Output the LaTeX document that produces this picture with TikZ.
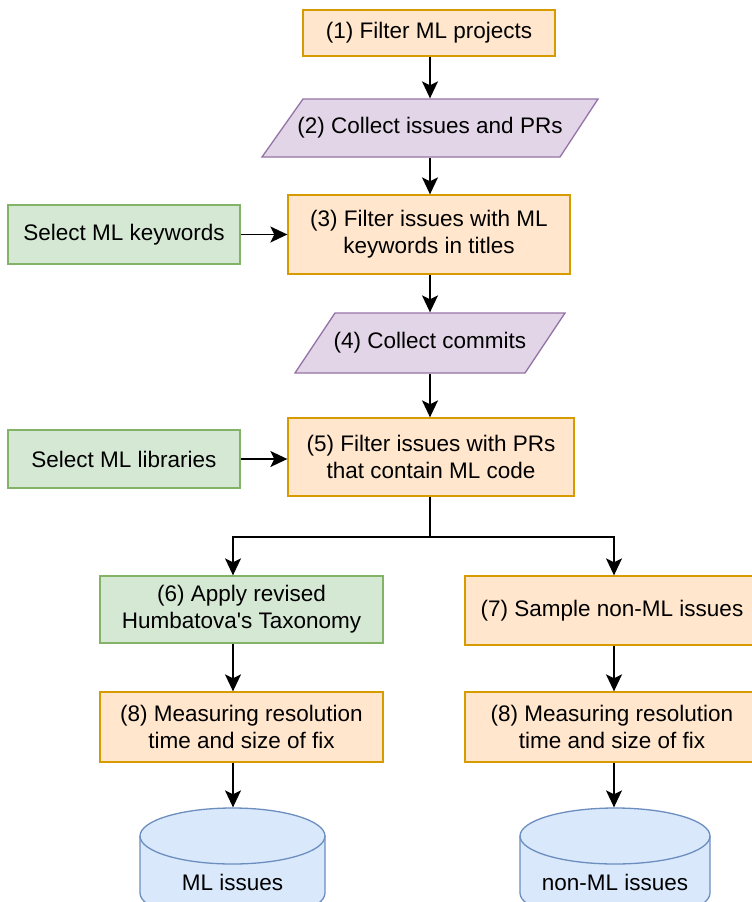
\documentclass[tikz,border=0pt]{standalone}
\usepackage{fontspec}
\setmainfont{Liberation Sans}
\usetikzlibrary{arrows.meta,calc}
\definecolor{ofill}{HTML}{FFE6CC}
\definecolor{ostroke}{HTML}{D79B00}
\definecolor{pfill}{HTML}{E1D5E7}
\definecolor{pstroke}{HTML}{9673A6}
\definecolor{gfill}{HTML}{D5E8D4}
\definecolor{gstroke}{HTML}{82B366}
\definecolor{bfill}{HTML}{DAE8FC}
\definecolor{bstroke}{HTML}{6C8EBF}
\newcommand\fsz{\fontsize{22.5}{27}\selectfont}
\tikzset{
  base/.style={line width=1.3pt, align=center, font=\fsz, inner sep=0pt, rectangle},
  obox/.style={base, draw=ostroke, fill=ofill},
  gbox/.style={base, draw=gstroke, fill=gfill},
  ptext/.style={base, draw=none, fill=none},
  para/.style={line width=1.3pt, draw=pstroke, fill=pfill},
  cyl/.style={line width=1.3pt, draw=bstroke, fill=bfill},
  arr/.style={line width=1.6pt, -{Stealth[length=17pt,width=16pt,inset=4pt]}}
}
\begin{document}
\begin{tikzpicture}[x=1pt,y=-1pt]
\useasboundingbox (0,0) rectangle (752,902);
\clip (0,0) rectangle (752,902);
\fill[white] (0,0) rectangle (752,902);
% (1)
\node[obox, minimum width=252, minimum height=46] (b1) at (429,33) {(1) Filter ML projects};
% (2)
\filldraw[para] (303,99) -- (598,99) -- (560,157) -- (262,157) -- cycle;
\node[ptext, minimum width=250, minimum height=58] (p2) at (430,128) {(2) Collect issues and PRs};
% (3)
\node[obox, minimum width=282, minimum height=79] (b3) at (429,234.5) {(3) Filter issues with ML\\keywords in titles};
\node[gbox, minimum width=232, minimum height=59] (g1) at (124,234.5) {Select ML keywords};
% (4)
\filldraw[para] (335,313) -- (565,313) -- (525,373) -- (295,373) -- cycle;
\node[ptext, minimum width=190, minimum height=60] (p4) at (430,343) {(4) Collect commits};
% (5)
\node[obox, minimum width=286, minimum height=78] (b5) at (431,457) {(5) Filter issues with PRs\\that contain ML code};
\node[gbox, minimum width=232, minimum height=58] (g2) at (124,459) {Select ML libraries};
% (6) (7)
\node[gbox, minimum width=283, minimum height=67] (b6) at (241.5,609.5) {(6) Apply revised\\Humbatova\textquotesingle s Taxonomy};
\node[obox, minimum width=294, minimum height=69] (b7) at (612,610.5) {(7) Sample non-ML issues};
% (8)
\node[obox, minimum width=283, minimum height=70] (b8l) at (241.5,727) {(8) Measuring resolution\\time and size of fix};
\node[obox, minimum width=294, minimum height=70] (b8r) at (612,727) {(8) Measuring resolution\\time and size of fix};
% cylinders
\filldraw[cyl] (140,836) -- (140,893) arc[start angle=180, end angle=0, x radius=92.5, y radius=28] -- (325,836) arc[start angle=0, end angle=-180, x radius=92.5, y radius=28] -- cycle;
\draw[cyl, fill=none] (140,836) arc[start angle=180, end angle=0, x radius=92.5, y radius=28];
\filldraw[cyl] (520,836) -- (520,893) arc[start angle=180, end angle=0, x radius=95, y radius=28] -- (710,836) arc[start angle=0, end angle=-180, x radius=95, y radius=28] -- cycle;
\draw[cyl, fill=none] (520,836) arc[start angle=180, end angle=0, x radius=95, y radius=28];
\node[ptext, minimum width=185, minimum height=94] (c1) at (232.5,855) {};
\node[ptext] (c1t) at (232.5,882) {ML issues};
\node[ptext, minimum width=190, minimum height=94] (c2) at (615,855) {};
\node[ptext] (c2t) at (615,882) {non-ML issues};
% connectors
\coordinate (jl) at (233,537);
\coordinate (jr) at (614,537);
\draw[arr] (b1.south -| p2.north) -- (p2.north);
\draw[arr] (p2.south) -- (p2.south |- b3.north);
\draw[arr] (g1.east) -- (g1.east -| b3.west);
\draw[arr] (b3.south -| p4.north) -- (p4.north);
\draw[arr] (p4.south) -- (p4.south |- b5.north);
\draw[arr] (g2.east) -- (g2.east -| b5.west);
\draw[arr] (b5.south -| p4.south) |- (jl) -- (jl |- b6.north);
\draw[arr] (b5.south -| p4.south) |- (jr) -- (jr |- b7.north);
\draw[arr] (jl |- b6.south) -- (jl |- b8l.north);
\draw[arr] (jr |- b7.south) -- (jr |- b8r.north);
\draw[arr] (jl |- b8l.south) -- (jl |- c1.north);
\draw[arr] (jr |- b8r.south) -- (jr |- c2.north);
\end{tikzpicture}
\end{document}
